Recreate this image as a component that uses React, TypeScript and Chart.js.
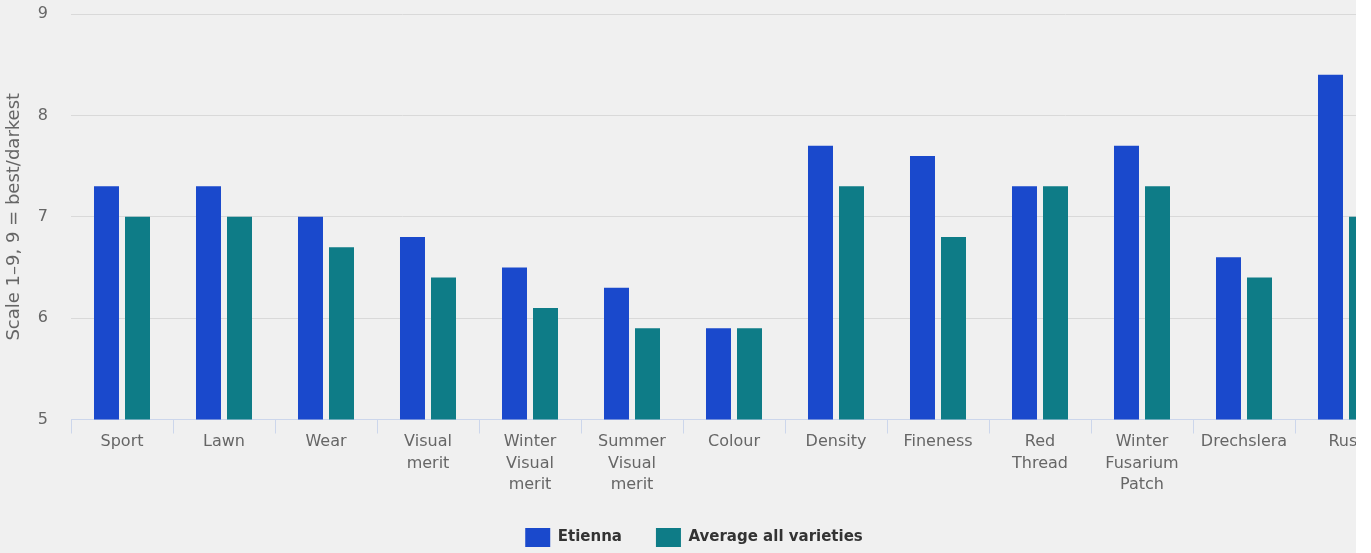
import React, { useEffect, useRef } from "react";
import { Chart, registerables } from "chart.js";

Chart.register(...registerables);

const categories: (string | string[])[] = [
  "Sport",
  "Lawn",
  "Wear",
  ["Visual", "merit"],
  ["Winter", "Visual", "merit"],
  ["Summer", "Visual", "merit"],
  "Colour",
  "Density",
  "Fineness",
  ["Red", "Thread"],
  ["Winter", "Fusarium", "Patch"],
  "Drechslera",
  "Rust",
];

const etienna = [7.3, 7.3, 7.0, 6.8, 6.5, 6.3, 5.9, 7.7, 7.6, 7.3, 7.7, 6.6, 8.4];
const averageAll = [7.0, 7.0, 6.7, 6.4, 6.1, 5.9, 5.9, 7.3, 6.8, 7.3, 7.3, 6.4, 7.0];

const yTicks = [5, 6, 7, 8, 9];

export default function App() {
  const ref = useRef<HTMLCanvasElement | null>(null);

  useEffect(() => {
    document.body.style.margin = "0";
    document.body.style.background = "#ffffff";
    const canvas = ref.current;
    if (!canvas) return;
    const chart = new Chart(canvas, {
      type: "bar",
      data: {
        labels: categories,
        datasets: [
          {
            label: "Etienna",
            data: etienna,
            backgroundColor: "#1a49cc",
            categoryPercentage: 0.608,
            barPercentage: 0.806,
          },
          {
            label: "Average all varieties",
            data: averageAll,
            backgroundColor: "#0e7c87",
            categoryPercentage: 0.608,
            barPercentage: 0.806,
          },
        ],
      },
      options: {
        animation: false,
        responsive: false,
        maintainAspectRatio: false,
        layout: { padding: { top: 14, left: -9, right: 10, bottom: -4 } },
        plugins: {
          tooltip: { enabled: false },
          legend: {
            position: "bottom",
            labels: {
              boxWidth: 25,
              boxHeight: 19,
              padding: 34,
              color: "#333333",
              font: { family: "DejaVu Sans", size: 15, weight: "bold" },
            },
          },
        },
        scales: {
          x: {
            border: { display: true, color: "#ccd6eb", width: 1 },
            grid: {
              display: true,
              drawOnChartArea: false,
              drawTicks: true,
              tickLength: 14,
              color: "#ccd6eb",
              offset: true,
            },
            ticks: {
              color: "#666666",
              padding: -2,
              maxRotation: 0,
              autoSkip: false,
              font: { family: "DejaVu Sans", size: 16, lineHeight: 1.344 },
            },
          },
          y: {
            min: 5,
            max: 9,
            afterBuildTicks: (axis: any) => {
              axis.ticks = yTicks.map((v) => ({ value: v }));
            },
            afterFit: (axis: any) => {
              axis.width = 80;
              axis.paddingTop = 0;
              axis.paddingBottom = 0;
            },
            border: { display: false },
            grid: { color: "#d9d9d9", drawTicks: false, lineWidth: 1 },
            ticks: {
              color: "#666666",
              padding: 23,
              font: { family: "DejaVu Sans", size: 16 },
            },
            title: {
              display: true,
              text: "Scale 1–9, 9 = best/darkest",
              color: "#666666",
              padding: { top: 13, bottom: 4 },
              font: { family: "DejaVu Sans", size: 18 },
            },
          },
        },
      },
    });
    return () => chart.destroy();
  }, []);

  return (
    <div style={{ width: 1356, height: 553, overflow: "hidden", background: "#f0f0f0" }}>
      <canvas ref={ref} width={1407} height={553} style={{ display: "block", width: 1407, height: 553 }} />
    </div>
  );
}
